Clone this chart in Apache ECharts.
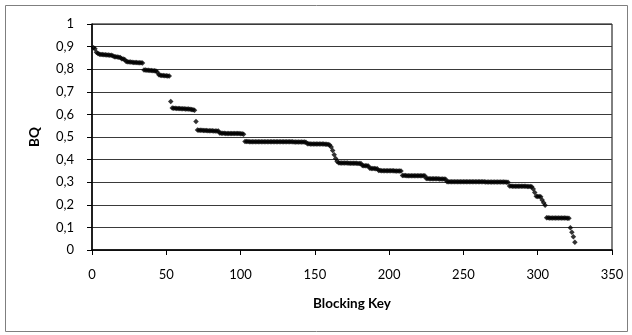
<!DOCTYPE html>
<html>
<head>
<meta charset="utf-8">
<script src="https://cdn.jsdelivr.net/npm/echarts@6/dist/echarts.min.js"></script>
<style>
  html, body { margin: 0; padding: 0; background: #fff; }
  #chart { width: 632px; height: 335px; }
</style>
</head>
<body>
<div id="chart"></div>
<script>
// BQ per blocking key (key = index + 1)
const bqValues = [
  0.895, 0.89, 0.875, 0.87, 0.866, 0.865, 0.865, 0.864, 0.864, 0.863,
  0.863, 0.862, 0.862, 0.86, 0.855, 0.855, 0.854, 0.853, 0.852, 0.846,
  0.845, 0.843, 0.834, 0.833, 0.832, 0.832, 0.831, 0.83, 0.83, 0.83,
  0.829, 0.829, 0.828, 0.827, 0.797, 0.796, 0.795, 0.795, 0.794, 0.794,
  0.793, 0.793, 0.792, 0.786, 0.775, 0.773, 0.772, 0.772, 0.771, 0.771,
  0.77, 0.77, 0.657, 0.628, 0.627, 0.627, 0.626, 0.626, 0.626, 0.625,
  0.625, 0.625, 0.624, 0.624, 0.624, 0.623, 0.622, 0.621, 0.618, 0.569,
  0.531, 0.53, 0.53, 0.53, 0.529, 0.529, 0.529, 0.528, 0.528, 0.528,
  0.528, 0.527, 0.527, 0.527, 0.526, 0.518, 0.517, 0.517, 0.517, 0.516,
  0.516, 0.516, 0.516, 0.516, 0.515, 0.515, 0.515, 0.515, 0.515, 0.514,
  0.514, 0.512, 0.48, 0.48, 0.48, 0.479, 0.479, 0.479, 0.479, 0.479,
  0.479, 0.479, 0.479, 0.479, 0.479, 0.479, 0.479, 0.479, 0.479, 0.479,
  0.479, 0.479, 0.479, 0.479, 0.479, 0.479, 0.479, 0.479, 0.479, 0.479,
  0.479, 0.479, 0.479, 0.479, 0.479, 0.478, 0.478, 0.478, 0.478, 0.478,
  0.478, 0.478, 0.478, 0.477, 0.47, 0.47, 0.469, 0.469, 0.469, 0.469,
  0.469, 0.469, 0.469, 0.469, 0.469, 0.469, 0.468, 0.468, 0.467, 0.465,
  0.456, 0.44, 0.422, 0.405, 0.392, 0.386, 0.385, 0.385, 0.385, 0.385,
  0.385, 0.385, 0.384, 0.384, 0.384, 0.384, 0.384, 0.384, 0.383, 0.383,
  0.383, 0.374, 0.373, 0.373, 0.373, 0.372, 0.362, 0.361, 0.361, 0.361,
  0.36, 0.36, 0.352, 0.352, 0.351, 0.351, 0.351, 0.351, 0.351, 0.351,
  0.351, 0.351, 0.351, 0.35, 0.35, 0.35, 0.35, 0.35, 0.33, 0.33,
  0.33, 0.329, 0.329, 0.329, 0.329, 0.329, 0.329, 0.329, 0.329, 0.329,
  0.328, 0.328, 0.328, 0.328, 0.316, 0.316, 0.315, 0.315, 0.315, 0.315,
  0.315, 0.315, 0.315, 0.314, 0.314, 0.314, 0.314, 0.313, 0.302, 0.302,
  0.302, 0.302, 0.302, 0.302, 0.302, 0.302, 0.302, 0.302, 0.302, 0.302,
  0.302, 0.302, 0.302, 0.302, 0.302, 0.302, 0.302, 0.302, 0.302, 0.302,
  0.302, 0.302, 0.302, 0.302, 0.301, 0.301, 0.301, 0.301, 0.301, 0.301,
  0.301, 0.301, 0.301, 0.301, 0.301, 0.301, 0.301, 0.301, 0.3, 0.3,
  0.283, 0.283, 0.282, 0.282, 0.282, 0.282, 0.282, 0.282, 0.282, 0.282,
  0.282, 0.282, 0.281, 0.281, 0.281, 0.28, 0.27, 0.254, 0.238, 0.237,
  0.237, 0.236, 0.221, 0.209, 0.198, 0.143, 0.143, 0.142, 0.142, 0.142,
  0.142, 0.142, 0.142, 0.142, 0.142, 0.142, 0.142, 0.142, 0.142, 0.141,
  0.141, 0.099, 0.078, 0.059, 0.034
];
const xTicks = [0, 50, 100, 150, 200, 250, 300, 350];
const yTicks = [0, 0.1, 0.2, 0.3, 0.4, 0.5, 0.6, 0.7, 0.8, 0.9, 1];

const points = bqValues.map((v, i) => [i + 1, v]);
const font = 'Lato, "Open Sans", sans-serif';

const chart = echarts.init(document.getElementById('chart'));
chart.setOption({
  animation: false,
  textStyle: { fontFamily: font },
  graphic: [{
    type: 'rect',
    shape: { x: 5.5, y: 5.5, width: 622, height: 326 },
    style: { fill: 'none', stroke: '#7f7f7f', lineWidth: 1 },
    silent: true
  }],
  grid: {
    left: 92, right: 20, top: 24, bottom: 85,
    show: true, borderColor: '#000', borderWidth: 1
  },
  xAxis: {
    type: 'value',
    min: xTicks[0],
    max: xTicks[xTicks.length - 1],
    interval: 50,
    name: 'Blocking Key',
    nameLocation: 'middle',
    nameGap: 47,
    nameTextStyle: { fontWeight: 'bold', fontSize: 13.5, color: '#000', fontFamily: font },
    axisLine: { lineStyle: { color: '#000', width: 1.5 } },
    axisTick: { show: true, length: 5, lineStyle: { color: '#000' } },
    axisLabel: { color: '#000', fontSize: 13, margin: 18, fontFamily: font },
    splitLine: { show: false }
  },
  yAxis: {
    type: 'value',
    min: yTicks[0],
    max: yTicks[yTicks.length - 1],
    interval: 0.1,
    name: 'BQ',
    nameLocation: 'middle',
    nameGap: 50,
    nameRotate: 90,
    nameTextStyle: { fontWeight: 'bold', fontSize: 13.5, color: '#000', fontFamily: font },
    axisLine: { show: true, lineStyle: { color: '#000', width: 1.5 } },
    axisTick: { show: true, length: 5, lineStyle: { color: '#000' } },
    axisLabel: {
      color: '#000', fontSize: 13, margin: 18, fontFamily: font,
      formatter: v => String(Math.round(v * 10) / 10).replace('.', ',')
    },
    splitLine: { show: true, lineStyle: { color: '#3a3a3a', width: 1 } }
  },
  series: [{
    type: 'scatter',
    data: points,
    symbol: 'diamond',
    symbolSize: 5.5,
    itemStyle: { color: '#000' }
  }]
});
</script>
</body>
</html>
